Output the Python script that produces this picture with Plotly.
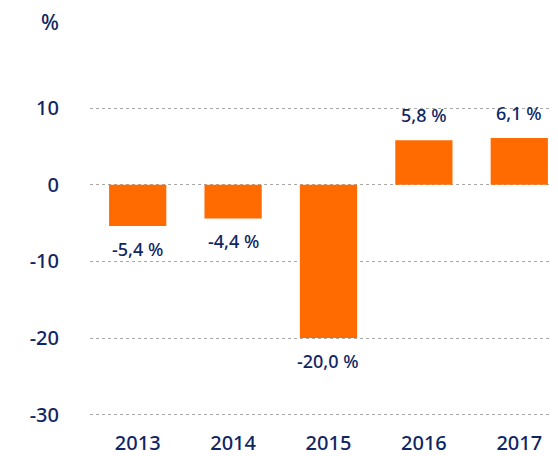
import plotly.graph_objects as go

years = ["2013", "2014", "2015", "2016", "2017"]
values = [-5.4, -4.4, -20.0, 5.8, 6.1]
y_ticks = [10, 0, -10, -20, -30]

NAVY = "#0f2663"
ORANGE = "#ff6b00"
FONT = "Noto Sans"
WEIGHT = 500

labels = [f"{v:.1f}".replace(".", ",") + " %" for v in values]

# the page body adds an 8px offset; figure is sized to fit the window
W, H = 550, 448
L, T, B = 82, 12, 36
PW, PH = W - L, H - T - B

fig = go.Figure()
fig.add_trace(go.Bar(
    x=list(range(len(years))), y=values,
    marker=dict(color=ORANGE, line=dict(width=0)),
    width=0.6, hoverinfo="skip",
))

for i, (v, t) in enumerate(zip(values, labels)):
    fig.add_annotation(
        x=i, y=v, text=t, showarrow=False,
        xanchor="center", yanchor="middle",
        yshift=25 if v > 0 else -23,
        font=dict(family=FONT, size=18, color=NAVY, weight=WEIGHT),
    )

fig.add_annotation(
    xref="paper", yref="paper",
    x=(42 - L) / PW, y=(H - B - 14) / PH,
    xanchor="center", yanchor="middle",
    text="%", showarrow=False,
    font=dict(family=FONT, size=21, color=NAVY, weight=WEIGHT),
)

fig.update_layout(
    width=W, height=H,
    margin=dict(l=L, r=0, t=T, b=B, autoexpand=False),
    paper_bgcolor="white", plot_bgcolor="white",
    showlegend=False,
    font=dict(family=FONT, color=NAVY),
)
fig.update_xaxes(
    range=[-0.5, 4.406], automargin=False,
    tickmode="array", tickvals=list(range(len(years))), ticktext=years,
    showgrid=False, zeroline=False, showline=False, ticks="",
    tickfont=dict(family=FONT, size=20, color=NAVY, weight=WEIGHT),
    ticklabelstandoff=9,
    fixedrange=True,
)
fig.update_yaxes(
    range=[-30.69, 21.48], automargin=False,
    tickmode="array", tickvals=y_ticks, ticktext=[str(t) for t in y_ticks],
    showgrid=True, gridcolor="#a8a8a8", griddash="dot", gridwidth=1.4,
    zeroline=False, showline=False, ticks="",
    tickfont=dict(family=FONT, size=20, color=NAVY, weight=WEIGHT),
    ticklabelstandoff=30,
    fixedrange=True,
)

fig.write_html("out.html")
